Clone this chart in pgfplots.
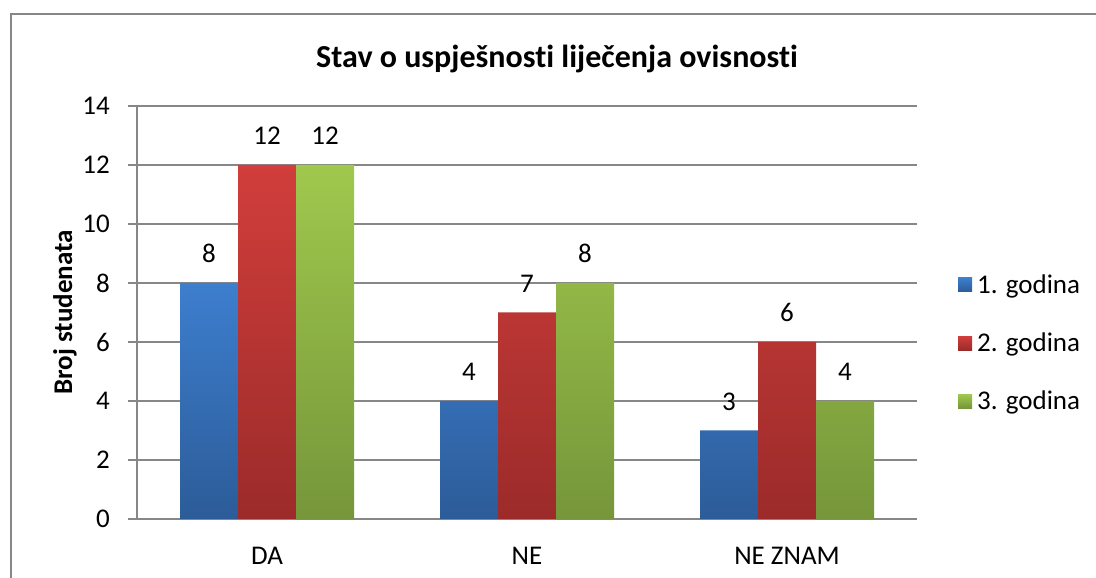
\documentclass[border=0pt]{standalone}
\usepackage{pgfplots}
\pgfplotsset{compat=1.18}
\usepackage{fontspec}
\setmainfont{Carlito}[Ligatures=NoCommon]
\definecolor{gridc}{HTML}{878787}
\definecolor{btop}{HTML}{3D7ECE}\definecolor{bbot}{HTML}{2C5C98}
\definecolor{rtop}{HTML}{D13E3B}\definecolor{rbot}{HTML}{9B2B2A}
\definecolor{gtop}{HTML}{A0C84D}\definecolor{gbot}{HTML}{76963A}
\begin{document}
\begin{tikzpicture}
\path[use as bounding box] (0pt,0pt) rectangle (1096pt,578pt);
\draw[gridc, line width=2pt] (11pt,0pt) -- (11pt,564pt) -- (1096pt,564pt);
\begin{axis}[
  at={(137pt,59pt)}, anchor=south west,
  scale only axis, width=780pt, height=413pt,
  xmin=-0.5, xmax=2.5, ymin=0, ymax=14,
  ybar=0pt, bar width=58pt,
  xtick={0,1,2}, xticklabels={DA,NE,NE ZNAM},
  ytick={0,2,...,14},
  axis x line*=bottom, axis y line*=left,
  axis line style={draw=gridc, line width=2pt},
  x axis line style={draw=none},
  ymajorgrids, grid style={draw=gridc, line width=2pt},
  major x tick style={draw=none},
  major y tick style={draw=gridc, line width=2pt},
  tick align=outside, major tick length=9pt,
  font=\fontsize{27}{32}\selectfont,
  /pgf/number format/assume math mode=true,
  yticklabel style={anchor=east, inner sep=0pt, xshift=-18pt},
  xticklabel style={anchor=base, inner sep=0pt, yshift=-37pt},
  title={\fontsize{32}{36}\selectfont\bfseries Stav o uspješnosti liječenja ovisnosti},
  title style={at={(axis description cs:0.5385,1.0993)}, anchor=center},
  ylabel={\bfseries Broj studenata},
  ylabel style={at={(axis description cs:-0.0923,0.5)}, anchor=center, rotate=0},
  nodes near coords,
  every node near coord/.append style={anchor=base, inner sep=0pt, yshift=20pt, font=\fontsize{27}{32}\selectfont, text=black},
  legend style={draw=none, fill=none, at={(axis description cs:1.0526,0.426)}, anchor=west,
    inner sep=0pt, row sep=38pt, font=\fontsize{27}{32}\selectfont,
    nodes={inner xsep=5pt, inner ysep=0pt}},
  legend cell align=left,
  legend image code/.code={\path[#1, draw=none] (0pt,-7pt) rectangle (14pt,7pt);},
]
\addplot[draw=none, top color=btop, bottom color=bbot] coordinates {(0,8) (1,4) (2,3)};
\addplot[draw=none, top color=rtop, bottom color=rbot] coordinates {(0,12) (1,7) (2,6)};
\addplot[draw=none, top color=gtop, bottom color=gbot] coordinates {(0,12) (1,8) (2,4)};
\legend{1. godina,2. godina,3. godina}
\end{axis}
\end{tikzpicture}
\end{document}
